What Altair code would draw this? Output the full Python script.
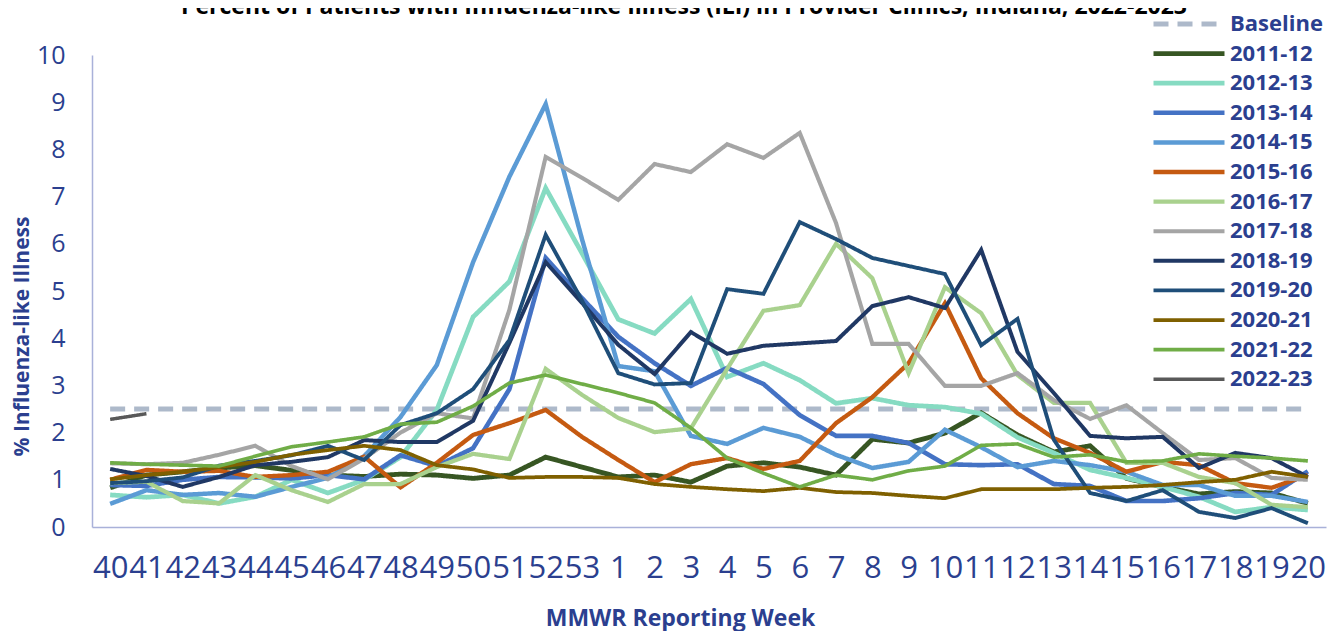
import altair as alt
import pandas as pd

TITLE = "Percent of Patients with Influenza-like Illness (ILI) in Provider Clinics, Indiana, 2022-2023"

WEEKS = ["40", "41", "42", "43", "44", "45", "46", "47", "48", "49", "50", "51", "52", "53",
         "1", "2", "3", "4", "5", "6", "7", "8", "9", "10", "11", "12", "13", "14", "15",
         "16", "17", "18", "19", "20"]

SERIES = ["Baseline", "2011-12", "2012-13", "2013-14", "2014-15", "2015-16", "2016-17",
          "2017-18", "2018-19", "2019-20", "2020-21", "2021-22", "2022-23"]

COLORS = ["#ADB9CA", "#375623", "#86DBC2", "#4472C4", "#5B9BD5", "#C55A11", "#A9D18E",
          "#A5A5A5", "#203864", "#1F4E79", "#7F6000", "#70AD47", "#595959"]

BASELINE = [2.5, 2.5, 2.5, 2.5, 2.5, 2.5, 2.5, 2.5, 2.5, 2.5, 2.5, 2.5, 2.5, 2.5, 2.5, 2.5, 2.5,
            2.5, 2.5, 2.5, 2.5, 2.5, 2.5, 2.5, 2.5, 2.5, 2.5, 2.5, 2.5, 2.5, 2.5, 2.5, 2.5, 2.5]
S2011_12 = [0.83, 1.10, 1.17, 1.25, 1.30, 1.20, 1.10, 1.07, 1.12, 1.10, 1.03, 1.10, 1.48, 1.27,
            1.06, 1.10, 0.95, 1.29, 1.36, 1.27, 1.10, 1.86, 1.78, 1.99, 2.42, 1.95, 1.59, 1.72,
            1.03, 0.85, 0.70, 0.75, 0.72, 0.50]
S2012_13 = [0.68, 0.63, 0.68, 0.50, 0.64, 1.00, 0.72, 1.00, 1.48, 2.48, 4.45, 5.20, 7.18, 5.80,
            4.40, 4.10, 4.83, 3.18, 3.47, 3.11, 2.62, 2.73, 2.58, 2.54, 2.40, 1.90, 1.57, 1.21,
            1.04, 0.85, 0.64, 0.32, 0.42, 0.36]
S2013_14 = [0.89, 0.87, 1.00, 1.06, 1.05, 1.03, 1.10, 1.01, 1.52, 1.29, 1.67, 2.92, 5.70, 4.85,
            4.03, 3.47, 2.99, 3.37, 3.03, 2.37, 1.93, 1.93, 1.78, 1.33, 1.31, 1.33, 0.91, 0.87,
            0.55, 0.55, 0.61, 0.72, 0.68, 1.18]
S2014_15 = [0.49, 0.78, 0.68, 0.72, 0.64, 0.85, 1.04, 1.50, 2.33, 3.43, 5.61, 7.42, 8.96, 6.10,
            3.41, 3.30, 1.93, 1.76, 2.10, 1.91, 1.53, 1.25, 1.38, 2.06, 1.69, 1.27, 1.40, 1.31,
            1.17, 0.89, 0.89, 0.66, 0.66, 0.53]
S2015_16 = [1.00, 1.21, 1.17, 1.19, 1.06, 1.10, 1.17, 1.49, 0.84, 1.36, 1.95, 2.20, 2.48, 1.91,
            1.42, 0.95, 1.33, 1.46, 1.23, 1.40, 2.20, 2.75, 3.47, 4.74, 3.15, 2.41, 1.88, 1.57,
            1.17, 1.38, 1.31, 0.93, 0.83, 1.10]
S2016_17 = [0.93, 0.96, 0.55, 0.50, 1.10, 0.78, 0.53, 0.91, 0.91, 1.27, 1.55, 1.44, 3.35, 2.80,
            2.31, 2.01, 2.09, 3.35, 4.58, 4.70, 6.00, 5.27, 3.26, 5.08, 4.53, 3.22, 2.63, 2.63,
            1.36, 1.36, 1.06, 0.93, 0.47, 0.42]
S2017_18 = [1.35, 1.33, 1.36, 1.53, 1.72, 1.29, 1.01, 1.45, 2.00, 2.41, 2.30, 4.60, 7.84, 7.40,
            6.93, 7.69, 7.52, 8.11, 7.82, 8.35, 6.44, 3.88, 3.88, 2.99, 2.99, 3.26, 2.69, 2.29,
            2.58, 1.99, 1.42, 1.46, 1.04, 1.00]
S2018_19 = [1.23, 1.08, 0.85, 1.06, 1.31, 1.38, 1.48, 1.84, 1.80, 1.80, 2.25, 3.90, 5.61, 4.75,
            3.86, 3.24, 4.13, 3.67, 3.84, 3.89, 3.94, 4.68, 4.87, 4.64, 5.87, 3.71, 2.84, 1.93,
            1.88, 1.91, 1.25, 1.57, 1.46, 1.06]
S2019_20 = [0.93, 0.97, 1.05, 1.30, 1.40, 1.52, 1.72, 1.42, 2.16, 2.41, 2.92, 3.96, 6.19, 4.80,
            3.26, 3.02, 3.05, 5.04, 4.94, 6.46, 6.10, 5.70, 5.53, 5.36, 3.85, 4.41, 1.85, 0.72,
            0.55, 0.78, 0.32, 0.19, 0.40, 0.08]
S2020_21 = [1.01, 1.10, 1.17, 1.27, 1.38, 1.53, 1.63, 1.72, 1.63, 1.31, 1.22, 1.04, 1.06, 1.06,
            1.04, 0.91, 0.85, 0.80, 0.76, 0.83, 0.74, 0.72, 0.66, 0.61, 0.80, 0.80, 0.80, 0.83,
            0.85, 0.89, 0.95, 1.00, 1.17, 1.06]
S2021_22 = [1.36, 1.33, 1.31, 1.29, 1.50, 1.70, 1.80, 1.91, 2.18, 2.22, 2.56, 3.05, 3.22, 3.03,
            2.84, 2.63, 2.10, 1.46, 1.14, 0.85, 1.10, 1.00, 1.19, 1.29, 1.73, 1.76, 1.48, 1.53,
            1.38, 1.40, 1.55, 1.50, 1.46, 1.40]
S2022_23 = [2.28, 2.40]

VALUES = [BASELINE, S2011_12, S2012_13, S2013_14, S2014_15, S2015_16, S2016_17,
          S2017_18, S2018_19, S2019_20, S2020_21, S2021_22, S2022_23]

DASHES = [[15, 9]] + [[1, 0]] * 12
WIDTHS = [5] + [3.5] * 12

rows = []
for name, vals in zip(SERIES, VALUES):
    for w, v in zip(WEEKS, vals):
        rows.append({"season": name, "week": w, "value": v})
df = pd.DataFrame(rows)

TEXT_COLOR = "#2B3F8F"
FONT = "Open Sans"

legend = alt.Legend(
    title=None, orient="none", legendX=1059, legendY=-44,
    symbolType="stroke", symbolSize=5041, symbolStrokeWidth=4,
    labelFont=FONT, labelFontSize=22, labelFontWeight="bold", labelColor=TEXT_COLOR,
    labelOffset=3, labelLimit=300, rowPadding=3.6, clipHeight=26, padding=0,
)

lines = alt.Chart(df).mark_line(strokeCap="butt", strokeJoin="miter").encode(
    x=alt.X("week:O", scale=alt.Scale(domain=WEEKS, type="point", padding=0.5),
            axis=alt.Axis(title="MMWR Reporting Week", labelAngle=0, labelOverlap=False,
                          labelFontSize=31, labelPadding=26, ticks=False,
                          titleX=588, titleY=91, titleBaseline="middle", titleFontSize=23)),
    y=alt.Y("value:Q", scale=alt.Scale(domain=[0, 10]),
            axis=alt.Axis(title="% Influenza-like Illness", values=list(range(11)),
                          labelFontSize=25, labelPadding=27, ticks=False, grid=False,
                          titleX=-70, titleY=281, titleAlign="center", titleBaseline="middle",
                          titleFontSize=21)),
    color=alt.Color("season:N", scale=alt.Scale(domain=SERIES, range=COLORS), legend=legend),
    strokeDash=alt.StrokeDash("season:N", scale=alt.Scale(domain=SERIES, range=DASHES), legend=legend),
    strokeWidth=alt.StrokeWidth("season:N", scale=alt.Scale(domain=SERIES, range=WIDTHS), legend=None),
    order=alt.Order("season:N"),
)

title = alt.Chart(pd.DataFrame({"t": [TITLE]})).mark_text(
    font=FONT, fontSize=23, fontWeight="bold", color="black", align="center", baseline="alphabetic"
).encode(text="t:N", x=alt.value(592), y=alt.value(-41))

chart = alt.layer(lines, title).properties(
    width=1234, height=472,
    autosize=alt.AutoSizeParams(type="none"),
    padding={"left": 84, "top": 47, "right": 6, "bottom": 104},
).configure_view(stroke=None).configure_axis(
    labelFont=FONT, titleFont=FONT, labelColor=TEXT_COLOR, titleColor=TEXT_COLOR,
    titleFontWeight="bold", domainColor="#A9B1D9", domainWidth=1.5,
).configure_axisX(grid=False)

chart.save("out.html", embed_options={"renderer": "svg", "actions": False})
